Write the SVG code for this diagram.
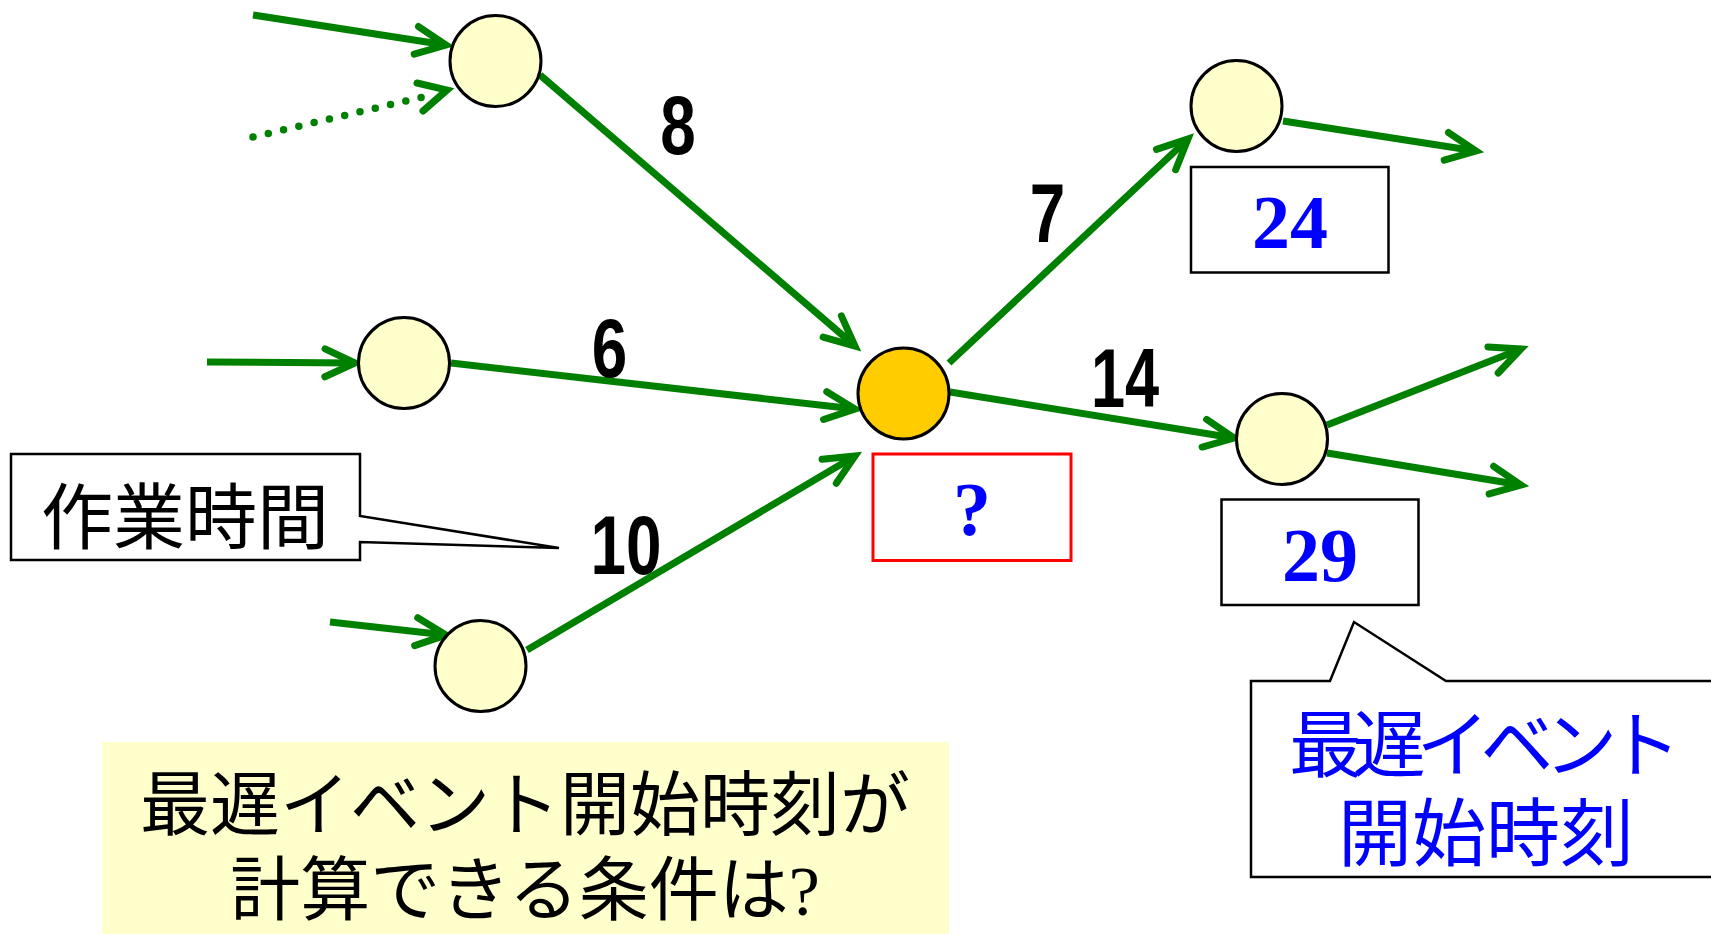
<svg xmlns="http://www.w3.org/2000/svg" width="1711" height="934" viewBox="0 0 1711 934">
<style>
.edge{fill:none;stroke:#008000;stroke-width:7;marker-end:url(#ah)}
.dot{fill:none;stroke:#008000;stroke-width:7.5;stroke-linecap:round;stroke-dasharray:0 15.7}
.node{fill:#FFFFCC;stroke:#000;stroke-width:3}
.hot{fill:#FFCC00;stroke:#000;stroke-width:3}
.box{fill:#fff;stroke:#000;stroke-width:2.5}
.num{font-family:"Liberation Sans",Arial,sans-serif;font-weight:bold;font-size:84px;fill:#000;text-anchor:middle}
.val{font-family:"Liberation Serif","Times New Roman",serif;font-weight:bold;font-size:76px;fill:#0000FF;text-anchor:middle}
.jp{font-family:"Noto Sans CJK JP","Noto Sans CJK SC",sans-serif;text-anchor:middle}
</style>
<defs>
<marker id="ah" markerUnits="userSpaceOnUse" markerWidth="80" markerHeight="80" viewBox="-40 -40 80 80" refX="0" refY="0" orient="auto" overflow="visible">
<path d="M-30,-14 L0,0 L-30,14" fill="none" stroke="#008000" stroke-width="7" stroke-linecap="round" stroke-linejoin="miter"/>
</marker>
</defs>
<rect width="1711" height="934" fill="#fff"/>
<g id="connectors">
<line class="edge" x1="253" y1="15" x2="446" y2="45"/>
<path class="dot" d="M253,137 L427,96"/>
<path d="M417,83 L447,90 L423,111" fill="none" stroke="#008000" stroke-width="7" stroke-linecap="round"/>
<line class="edge" x1="540" y1="75" x2="855" y2="346"/>
<line class="edge" x1="207" y1="362" x2="355" y2="363"/>
<line class="edge" x1="451" y1="363" x2="855" y2="409"/>
<line class="edge" x1="330" y1="622" x2="446" y2="635"/>
<line class="edge" x1="527" y1="650" x2="855" y2="456"/>
<line class="edge" x1="949" y1="363" x2="1188" y2="139"/>
<line class="edge" x1="950" y1="392" x2="1234" y2="438"/>
<line class="edge" x1="1283" y1="121" x2="1476" y2="151"/>
<line class="edge" x1="1327" y1="425" x2="1521" y2="349"/>
<line class="edge" x1="1327" y1="453" x2="1521" y2="485"/>
</g>
<g id="nodeA"><circle class="node" cx="495.5" cy="61" r="45.5"/></g>
<g id="nodeB"><circle class="node" cx="404" cy="363" r="45.5"/></g>
<g id="nodeC"><circle class="node" cx="480.5" cy="666" r="45.5"/></g>
<g id="nodeD"><circle class="hot" cx="903.5" cy="393.5" r="45.5"/></g>
<g id="nodeE"><circle class="node" cx="1236.5" cy="106" r="45.5"/></g>
<g id="nodeF"><circle class="node" cx="1282" cy="439" r="45.5"/></g>
<g id="labels">
<text class="num" transform="translate(678,154) scale(0.76,1)">8</text>
<text class="num" transform="translate(609.5,377) scale(0.76,1)">6</text>
<text class="num" transform="translate(626,574) scale(0.76,1)">10</text>
<text class="num" transform="translate(1047.5,242) scale(0.76,1)">7</text>
<text class="num" transform="translate(1125,407) scale(0.73,1)">14</text>
</g>
<g id="box24"><rect class="box" x="1191" y="167" width="197.5" height="105.5"/><text class="val" x="1290" y="248">24</text></g>
<g id="box29"><rect class="box" x="1221.5" y="499.5" width="197" height="105.5"/><text class="val" x="1320" y="581">29</text></g>
<g id="boxQ"><rect x="873" y="454" width="198" height="106.5" fill="#fff" stroke="#FF0000" stroke-width="3"/><text class="val" x="972" y="535">?</text></g>
<g id="calloutWork">
<path class="box" d="M11,454 L360,454 L360,516 L559,548 L360,542 L360,560 L11,560 Z"/>
<text class="jp" x="185" y="543" font-size="72" fill="#000">作業時間</text>
</g>
<g id="calloutLate">
<path class="box" d="M1251,681 L1330,681 L1354,622 L1446,681 L1725,681 L1725,877 L1251,877 Z"/>
<text class="jp" x="1289" y="771" font-size="73" fill="#0000FF" text-anchor="start" textLength="392" lengthAdjust="spacing" style="text-anchor:start">最遅イベント</text>
<text class="jp" x="1486" y="860" font-size="74" fill="#0000FF">開始時刻</text>
</g>
<g id="question">
<rect x="102" y="742" width="847" height="192" fill="#FFFFCC"/>
<text class="jp" x="525" y="830" font-size="70" fill="#000">最遅イベント開始時刻が</text>
<text class="jp" x="525" y="915" font-size="70" fill="#000">計算できる条件は<tspan font-family="Liberation Serif,serif">?</tspan></text>
</g>
</svg>
